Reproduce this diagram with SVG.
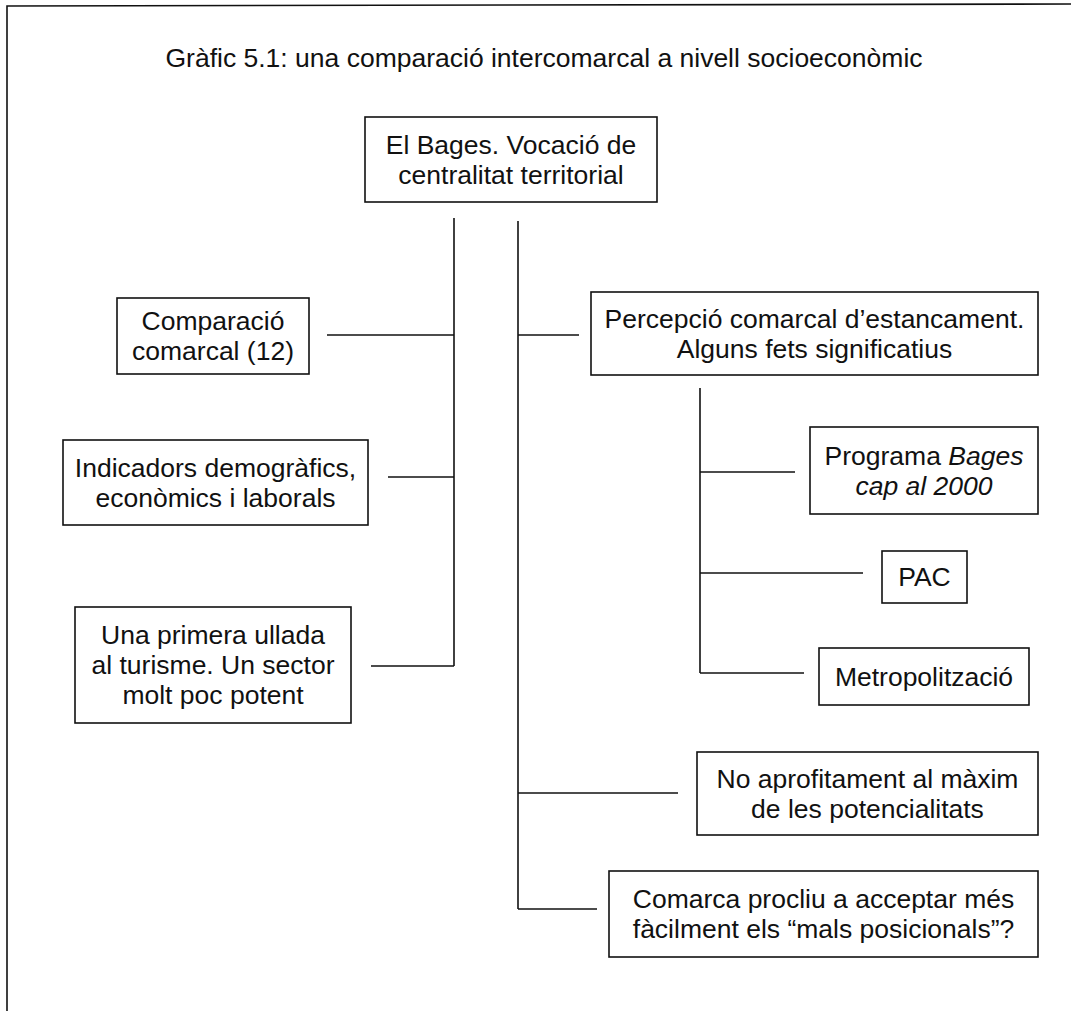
<svg xmlns="http://www.w3.org/2000/svg" width="1071" height="1011" viewBox="0 0 1071 1011">
<style>
text{font-family:"Liberation Sans",Arial,Helvetica,sans-serif;font-size:26.5px;fill:#111;text-anchor:middle}
.box{fill:#fff;stroke:#111;stroke-width:1.6}
.ln{fill:none;stroke:#111;stroke-width:1.6}
.it{font-style:italic}
</style>
<rect width="1071" height="1011" fill="#fff"/>
<g id="frame"><polyline class="ln" stroke-width="2" points="7,1011 7,6 1071,4"/></g>
<g id="title"><text x="544" y="67">Gràfic 5.1: una comparació intercomarcal a nivell socioeconòmic</text></g>
<g id="connectors">
<line class="ln" x1="454" y1="218" x2="454" y2="666"/>
<line class="ln" x1="327" y1="335" x2="454" y2="335"/>
<line class="ln" x1="388" y1="477" x2="454" y2="477"/>
<line class="ln" x1="371" y1="666" x2="454" y2="666"/>
<line class="ln" x1="518" y1="221" x2="518" y2="909"/>
<line class="ln" x1="518" y1="335" x2="579" y2="335"/>
<line class="ln" x1="518" y1="793" x2="678" y2="793"/>
<line class="ln" x1="518" y1="909" x2="597" y2="909"/>
<line class="ln" x1="700" y1="388" x2="700" y2="673"/>
<line class="ln" x1="700" y1="472" x2="795" y2="472"/>
<line class="ln" x1="700" y1="573" x2="863" y2="573"/>
<line class="ln" x1="700" y1="673" x2="804" y2="673"/>
</g>
<g id="root"><rect class="box" x="365" y="117" width="292" height="85"/><text x="511" y="153.5">El Bages. Vocació de</text><text x="511" y="183.5">centralitat territorial</text></g>
<g id="comparacio"><rect class="box" x="117" y="298" width="192" height="76"/><text x="213" y="330">Comparació</text><text x="213" y="360">comarcal (12)</text></g>
<g id="indicadors"><rect class="box" x="63" y="440" width="305" height="85"/><text x="215.5" y="476.5">Indicadors demogràfics,</text><text x="215.5" y="506.5">econòmics i laborals</text></g>
<g id="turisme"><rect class="box" x="75" y="607" width="276" height="116"/><text x="213" y="644">Una primera ullada</text><text x="213" y="674">al turisme. Un sector</text><text x="213" y="704">molt poc potent</text></g>
<g id="percepcio"><rect class="box" x="591" y="292" width="447" height="83"/><text x="814.5" y="327.5">Percepció comarcal d’estancament.</text><text x="814.5" y="357.5">Alguns fets significatius</text></g>
<g id="programa"><rect class="box" x="810" y="427" width="228" height="87"/><text x="924" y="464.5">Programa <tspan class="it">Bages</tspan></text><text x="924" y="494.5" class="it">cap al 2000</text></g>
<g id="pac"><rect class="box" x="882" y="551" width="85" height="52"/><text x="924.5" y="586">PAC</text></g>
<g id="metropolitzacio"><rect class="box" x="819" y="648" width="210" height="57"/><text x="924" y="685.5">Metropolització</text></g>
<g id="aprofitament"><rect class="box" x="697" y="752" width="341" height="83"/><text x="867.5" y="787.5">No aprofitament al màxim</text><text x="867.5" y="817.5">de les potencialitats</text></g>
<g id="comarca"><rect class="box" x="609" y="871" width="429" height="86"/><text x="823.5" y="908">Comarca procliu a acceptar més</text><text x="823.5" y="938">fàcilment els “mals posicionals”?</text></g>
</svg>
